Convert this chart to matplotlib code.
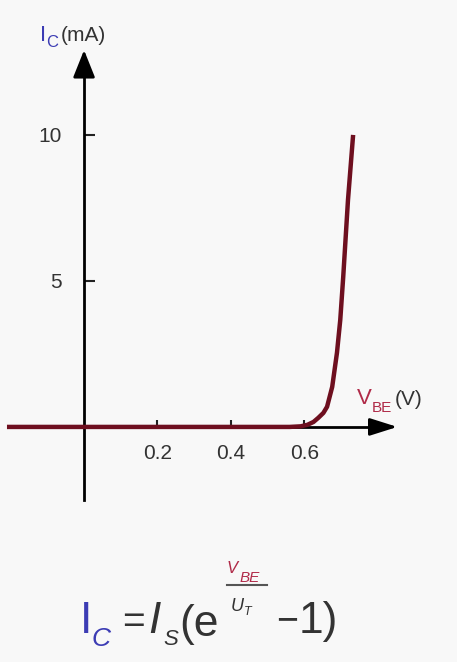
import numpy as np
import matplotlib.pyplot as plt

plt.rcParams['font.family'] = ['Liberation Sans', 'DejaVu Sans']

# data
vbe = [-0.21, 0.0, 0.2, 0.4, 0.56, 0.59, 0.608, 0.625, 0.638, 0.652, 0.662,
       0.676, 0.689, 0.698, 0.706, 0.719, 0.733]
ic = [0.0, 0.0, 0.0, 0.0, 0.0, 0.02, 0.07, 0.17, 0.31, 0.48, 0.69,
      1.37, 2.54, 3.67, 5.13, 7.77, 10.0]
x_ticks = [0.2, 0.4, 0.6]
x_labels = ['0.2', '0.4', '0.6']
y_ticks = [5, 10]
y_labels = ['5', '10']

W, H = 457, 662
bg = '#f8f8f8'
dark = '#333333'
blue = '#3c3cb4'
red = '#b02a48'
curve = '#6e0f1f'

fig = plt.figure(figsize=(W / 100, H / 100), dpi=100, facecolor=bg)
ax = fig.add_axes([0, 0, 1, 1], facecolor=bg)
ax.set_xlim(-0.229, 1.016)
ax.set_ylim(-8.05, 14.62)

# axes through the origin
for s in ['top', 'right']:
    ax.spines[s].set_visible(False)
ax.spines['left'].set_position(('data', 0))
ax.spines['bottom'].set_position(('data', 0))
ax.spines['left'].set_bounds(-2.5, 12.5)
ax.spines['bottom'].set_bounds(-0.207, 0.82)
for s in ['left', 'bottom']:
    ax.spines[s].set_linewidth(2)
    ax.spines[s].set_color('black')

ax.annotate('', xy=(0, 13.0), xytext=(0, 12.0),
            arrowprops=dict(arrowstyle='-|>,head_length=0.6,head_width=0.24',
                            color='black', lw=2, mutation_scale=28))
ax.annotate('', xy=(0.861, 0), xytext=(0.78, 0),
            arrowprops=dict(arrowstyle='-|>,head_length=0.6,head_width=0.19',
                            color='black', lw=2, mutation_scale=28))

ax.set_xticks(x_ticks)
ax.set_xticklabels(x_labels)
ax.set_yticks(y_ticks)
ax.set_yticklabels(y_labels)
ax.tick_params(axis='both', direction='in', width=1.5, color='#222222',
               labelsize=15, labelcolor=dark)
ax.tick_params(axis='x', pad=12, length=5)
ax.tick_params(axis='y', pad=16, length=8)

ax.plot(vbe, ic, color=curve, lw=3.2, solid_capstyle='butt', zorder=5)


def px(x, y):
    return x / W, 1 - y / H


# axis labels
fig.text(*px(40, 41), 'I', color=blue, fontsize=16, va='baseline')
fig.text(*px(46, 47), 'C', color=blue, fontsize=12, va='baseline')
fig.text(*px(61, 41), '(mA)', color=dark, fontsize=15, va='baseline')

fig.text(*px(357, 404), 'V', color=red, fontsize=16, va='baseline')
fig.text(*px(372, 412), 'BE', color=red, fontsize=11, va='baseline')
fig.text(*px(395, 405), '(V)', color=dark, fontsize=15, va='baseline')

# equation
fig.text(*px(80, 633), 'I', color=blue, fontsize=32, va='baseline')
fig.text(*px(92, 646), 'C', color=blue, fontsize=19, style='italic', va='baseline')
fig.text(*px(122, 633), '=', color=dark, fontsize=28, va='baseline')
fig.text(*px(148, 633), 'I', color=dark, fontsize=32, style='italic', va='baseline')
fig.text(*px(163, 645), 'S', color=dark, fontsize=16, style='italic', va='baseline')
fig.text(*px(179, 636), '(e', color=dark, fontsize=32, va='baseline')
fig.text(*px(227, 573), 'V', color=red, fontsize=12, style='italic', va='baseline')
fig.text(*px(240, 582), 'BE', color=red, fontsize=11, style='italic', va='baseline')
fig.add_artist(plt.Line2D([227 / W, 267 / W], [1 - 585 / H, 1 - 585 / H],
                          color='#555555', lw=1.5))
fig.text(*px(231, 611), 'U', color=dark, fontsize=13, style='italic', va='baseline')
fig.text(*px(244, 615), 'T', color=dark, fontsize=9, style='italic', va='baseline')
fig.text(*px(276, 631), '\u2212', color=dark, fontsize=27, va='baseline')
fig.text(*px(299, 633), '1)', color=dark, fontsize=32, va='baseline')

fig.savefig('out.png', dpi=100, facecolor=bg)
